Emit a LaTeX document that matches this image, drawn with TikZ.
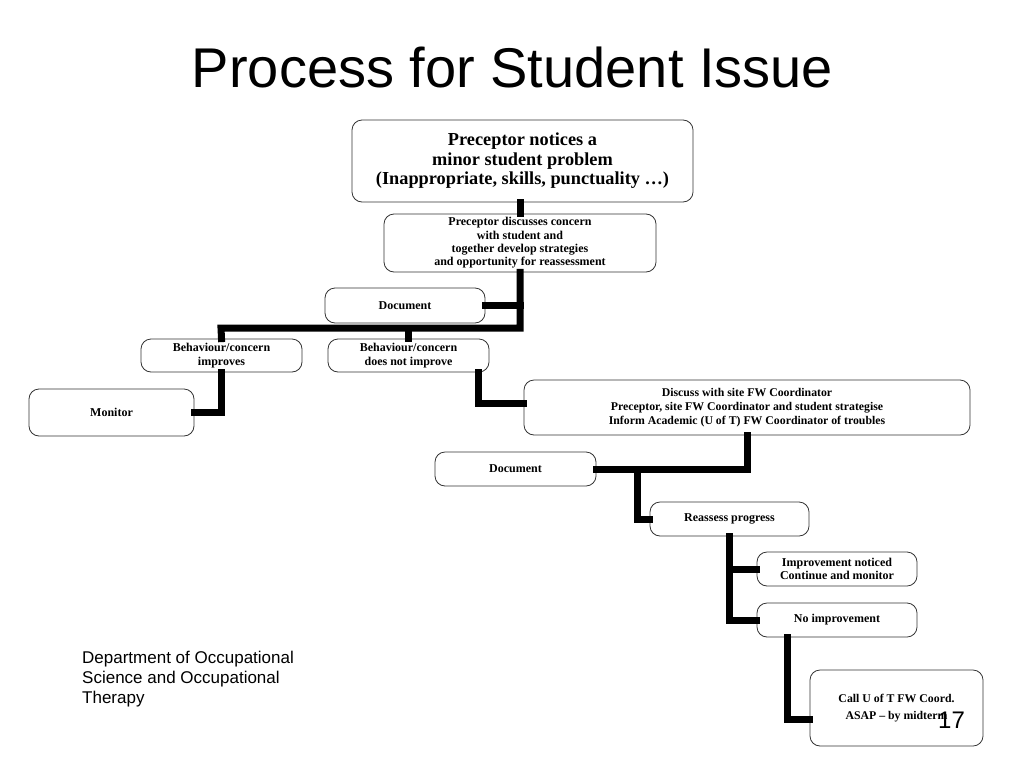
\documentclass[tikz,border=0pt]{standalone}
\usepackage{fontspec}
\setmainfont{Liberation Serif}
\newfontfamily\slidefont{Liberation Sans}
\usetikzlibrary{positioning}

\begin{document}
\begin{tikzpicture}[x=1pt,y=-1pt,
    stepbox/.style={draw=black!80,line width=0.8pt,rounded corners=10pt,
      align=center,inner sep=0pt,font=\bfseries\fontsize{12}{13.4}\selectfont},
    link/.style={line width=\connw pt,line join=miter,line cap=rect}]
  \pgfmathsetmacro{\connw}{7}

  % Draw page
  \useasboundingbox (0,0) rectangle (1024,768);

  % Draw title
  \node[anchor=base,font=\slidefont\fontsize{56}{60}\selectfont] (title)
        at (512.5,87) {Process for Student Issue};

  % Draw boxes
  \node[stepbox,minimum width=341pt,minimum height=82pt,
        font=\bfseries\fontsize{18.3}{19.5}\selectfont] (notice) at (522.5,161)
        {Preceptor notices a\\minor student problem\\(Inappropriate, skills, punctuality \dots)};
  \node[stepbox,minimum width=272pt,minimum height=58pt] (discuss) at (520,243)
        {Preceptor discusses concern\\with student and\\together develop strategies\\and opportunity for reassessment};
  \node[stepbox,minimum width=160pt,minimum height=35pt] (docone) at (405,305.5) {Document};
  \node[stepbox,minimum width=161pt,minimum height=33pt] (better) at (221.5,355.5)
        {Behaviour/concern\\improves};
  \node[stepbox,minimum width=161pt,minimum height=33pt] (worse) at (408.5,355.5)
        {Behaviour/concern\\does not improve};
  \node[stepbox,minimum width=165pt,minimum height=47pt] (monitor) at (111.5,412.5) {Monitor};
  \node[stepbox,minimum width=446pt,minimum height=55pt,
        font=\bfseries\fontsize{11.8}{14}\selectfont] (sitefw) at (747,407.5)
        {Discuss with site FW Coordinator\\Preceptor, site FW Coordinator and student strategise\\Inform Academic (U of T) FW Coordinator of troubles};
  \node[stepbox,minimum width=161pt,minimum height=34pt] (doctwo) at (515.5,469) {Document};
  \node[stepbox,minimum width=159pt,minimum height=34pt] (reassess) at (729.5,519) {Reassess progress};
  \node[stepbox,minimum width=160pt,minimum height=34pt] (improved) at (837,569)
        {Improvement noticed\\Continue and monitor};
  \node[stepbox,minimum width=160pt,minimum height=34pt] (noimprove) at (837,620) {No improvement};
  \node[stepbox,minimum width=173pt,minimum height=76pt,
        font=\bfseries\fontsize{11.8}{17}\selectfont] (callfw) at (896.5,708)
        {Call U of T FW Coord.\\ASAP -- by midterm};

  % Draw connectors
  \coordinate (bar) at (221,328);
  \coordinate (forkone) at (637,469);
  \draw[link] (discuss.north |- notice.south) -- (discuss.north);
  \draw[link] (discuss.south) |- (bar) -- (better.north);
  \draw[link] (docone.east) -- (docone.east -| discuss.south);
  \draw[link] (worse.north |- bar) -- (worse.north);
  \draw[link] (better.south) |- (monitor.east);
  \draw[link] ([xshift=70pt]worse.south) |- ([yshift=4pt]sitefw.west);
  \draw[link] (sitefw.south) |- (doctwo.east);
  \draw[link] (forkone) |- (reassess.west);
  \draw[link] (reassess.south) |- (improved.west);
  \draw[link] (reassess.south) |- (noimprove.west);
  \draw[link] ([xshift=-50pt]noimprove.south) |- ([yshift=-11pt]callfw.west);

  % Draw footer
  \node[anchor=north west,align=left,inner sep=0pt,
        font=\slidefont\fontsize{17}{20}\selectfont] (dept) at (82,651)
        {Department of Occupational\\Science and Occupational\\Therapy};
  \node[anchor=base west,inner sep=0pt,font=\slidefont\fontsize{24}{26}\selectfont]
        (pagenum) at (938,728) {17};
\end{tikzpicture}
\end{document}
